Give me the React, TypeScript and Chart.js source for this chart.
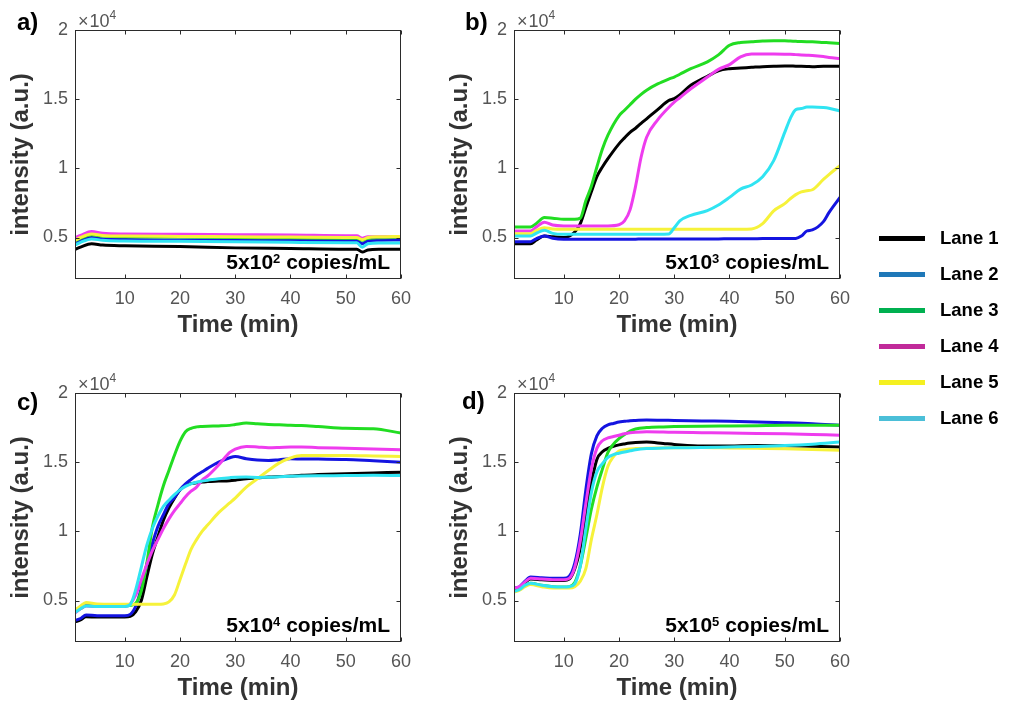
import React, { useEffect, useRef } from "react";
import { Chart, registerables } from "chart.js";

Chart.register(...registerables);

const FONT = '"Liberation Sans", Arial, Helvetica, sans-serif';

// ---------- shared ----------
const LANE_NAMES = ["Lane 1", "Lane 2", "Lane 3", "Lane 4", "Lane 5", "Lane 6"];
const LINE_COLORS = ["#000000", "#1414e0", "#22dd22", "#ee3cee", "#f6f23a", "#30e4f2"];
const LEGEND_COLORS = ["#000000", "#1f78b8", "#00b050", "#c12a9a", "#f5f020", "#4bbfd8"];
const X_TICKS = [10, 20, 30, 40, 50, 60];
const Y_TICKS = [0.5, 1, 1.5, 2]; // ×10^4
const X_MIN = 1;
const X_MAX = 60;
const Y_MIN = 0.2;
const Y_MAX = 2;

// ---------- panel a: 5x10^2 copies/mL (intensity ×10^4) ----------
const timeA = [1, 2, 4, 6, 10, 20, 30, 40, 50, 52, 53, 54, 56, 60];
const a1 = [0.414, 0.43, 0.455, 0.445, 0.44, 0.435, 0.425, 0.42, 0.415, 0.415, 0.395, 0.41, 0.415, 0.415];
const a2 = [0.46, 0.48, 0.5, 0.49, 0.485, 0.482, 0.48, 0.48, 0.478, 0.478, 0.455, 0.475, 0.48, 0.482];
const a3 = [0.475, 0.495, 0.52, 0.51, 0.505, 0.503, 0.5, 0.498, 0.495, 0.495, 0.48, 0.495, 0.498, 0.5];
const a4 = [0.5, 0.515, 0.543, 0.53, 0.525, 0.523, 0.52, 0.518, 0.513, 0.512, 0.495, 0.505, 0.505, 0.505];
const a5 = [0.48, 0.5, 0.525, 0.515, 0.51, 0.508, 0.505, 0.503, 0.5, 0.5, 0.485, 0.5, 0.505, 0.508];
const a6 = [0.445, 0.465, 0.49, 0.48, 0.475, 0.472, 0.47, 0.465, 0.462, 0.462, 0.43, 0.455, 0.46, 0.46];

// ---------- panel b: 5x10^3 copies/mL ----------
const timeB = [1, 4, 5, 6.5, 8, 10, 12, 13, 14, 15, 16, 17, 18, 20, 21, 22, 23, 24, 25, 27, 29, 30, 31, 33, 36, 38, 40, 42, 44, 46, 48, 50, 51, 52, 53, 54, 55, 57, 58, 60];
const b1 = [0.455, 0.455, 0.48, 0.51, 0.505, 0.5, 0.54, 0.6, 0.717, 0.83, 0.94, 1.01, 1.07, 1.177, 1.22, 1.26, 1.29, 1.325, 1.358, 1.425, 1.49, 1.504, 1.53, 1.6, 1.665, 1.705, 1.72, 1.725, 1.73, 1.735, 1.738, 1.74, 1.74, 1.738, 1.738, 1.737, 1.735, 1.738, 1.738, 1.738];
const b2 = [0.47, 0.47, 0.49, 0.511, 0.494, 0.487, 0.487, 0.487, 0.487, 0.487, 0.487, 0.487, 0.487, 0.488, 0.488, 0.488, 0.488, 0.489, 0.489, 0.489, 0.49, 0.49, 0.49, 0.49, 0.49, 0.49, 0.491, 0.491, 0.491, 0.492, 0.492, 0.492, 0.492, 0.493, 0.51, 0.547, 0.555, 0.615, 0.68, 0.79];
const b3 = [0.576, 0.576, 0.6, 0.644, 0.64, 0.632, 0.632, 0.64, 0.765, 0.87, 1.01, 1.14, 1.24, 1.38, 1.42, 1.46, 1.5, 1.535, 1.565, 1.61, 1.645, 1.66, 1.68, 1.72, 1.77, 1.82, 1.89, 1.91, 1.915, 1.92, 1.923, 1.922, 1.92, 1.918, 1.916, 1.915, 1.915, 1.91, 1.908, 1.903];
const b4 = [0.547, 0.547, 0.575, 0.61, 0.59, 0.584, 0.584, 0.584, 0.584, 0.584, 0.584, 0.584, 0.584, 0.592, 0.62, 0.7, 0.87, 1.08, 1.225, 1.35, 1.44, 1.479, 1.51, 1.575, 1.66, 1.715, 1.75, 1.806, 1.826, 1.826, 1.826, 1.825, 1.824, 1.822, 1.82, 1.818, 1.816, 1.808, 1.802, 1.794];
const b5 = [0.528, 0.528, 0.55, 0.571, 0.562, 0.56, 0.56, 0.56, 0.56, 0.56, 0.56, 0.56, 0.56, 0.56, 0.56, 0.56, 0.56, 0.56, 0.56, 0.56, 0.56, 0.56, 0.56, 0.56, 0.56, 0.56, 0.56, 0.56, 0.562, 0.6, 0.693, 0.745, 0.78, 0.81, 0.83, 0.838, 0.845, 0.92, 0.955, 1.02];
const b6 = [0.511, 0.511, 0.53, 0.552, 0.53, 0.523, 0.523, 0.523, 0.523, 0.523, 0.523, 0.523, 0.523, 0.523, 0.523, 0.523, 0.523, 0.523, 0.523, 0.523, 0.525, 0.57, 0.62, 0.66, 0.695, 0.735, 0.79, 0.85, 0.88, 0.94, 1.056, 1.26, 1.36, 1.425, 1.432, 1.443, 1.443, 1.44, 1.435, 1.414];

// ---------- panel c: 5x10^4 copies/mL ----------
const timeC = [1, 2, 3, 5, 8, 10, 11, 12, 13, 14, 15, 16, 17, 18, 19, 20, 21, 22, 23, 24, 25, 27, 29, 30, 32, 34, 36, 38, 40, 42, 45, 50, 55, 60];
const c1 = [0.345, 0.36, 0.382, 0.38, 0.38, 0.38, 0.385, 0.42, 0.5, 0.67, 0.836, 0.96, 1.08, 1.17, 1.24, 1.3, 1.335, 1.345, 1.352, 1.356, 1.36, 1.363, 1.366, 1.37, 1.38, 1.385, 1.392, 1.396, 1.4, 1.405, 1.41, 1.417, 1.422, 1.427];
const c2 = [0.355, 0.37, 0.396, 0.39, 0.39, 0.39, 0.4, 0.46, 0.59, 0.76, 0.91, 1.035, 1.12, 1.2, 1.245, 1.3, 1.343, 1.375, 1.405, 1.43, 1.455, 1.5, 1.532, 1.541, 1.525, 1.515, 1.512, 1.518, 1.524, 1.523, 1.522, 1.52, 1.51, 1.5];
const c3 = [0.42, 0.44, 0.465, 0.46, 0.46, 0.46, 0.465, 0.48, 0.57, 0.77, 1.03, 1.19, 1.33, 1.44, 1.55, 1.65, 1.72, 1.745, 1.755, 1.758, 1.76, 1.762, 1.766, 1.772, 1.783, 1.778, 1.773, 1.77, 1.766, 1.765, 1.758, 1.745, 1.742, 1.71];
const c4 = [0.41, 0.44, 0.46, 0.456, 0.456, 0.456, 0.475, 0.54, 0.65, 0.76, 0.86, 0.94, 1.02, 1.09, 1.15, 1.2, 1.25, 1.29, 1.32, 1.37, 1.4, 1.48, 1.57, 1.595, 1.614, 1.61, 1.604, 1.606, 1.609, 1.61, 1.605, 1.6, 1.595, 1.589];
const c5 = [0.43, 0.46, 0.485, 0.475, 0.473, 0.473, 0.473, 0.473, 0.473, 0.473, 0.473, 0.473, 0.475, 0.49, 0.54, 0.65, 0.763, 0.87, 0.94, 1.0, 1.045, 1.135, 1.205, 1.24, 1.32, 1.38, 1.44, 1.495, 1.53, 1.548, 1.548, 1.548, 1.545, 1.541];
const c6 = [0.413, 0.44, 0.46, 0.456, 0.456, 0.456, 0.47, 0.58, 0.74, 0.9, 1.02, 1.11, 1.18, 1.225, 1.265, 1.3, 1.325, 1.343, 1.355, 1.363, 1.37, 1.38, 1.388, 1.391, 1.392, 1.39, 1.391, 1.395, 1.398, 1.4, 1.402, 1.403, 1.405, 1.403];

// ---------- panel d: 5x10^5 copies/mL ----------
const timeD = [1, 2, 3, 4, 6, 8, 10, 11, 12, 13, 14, 15, 16, 17, 18, 19, 20, 21, 22, 23, 25, 28, 30, 35, 40, 45, 50, 55, 60];
const d1 = [0.585, 0.595, 0.63, 0.655, 0.65, 0.645, 0.645, 0.655, 0.73, 0.88, 1.12, 1.35, 1.52, 1.575, 1.6, 1.615, 1.625, 1.632, 1.638, 1.642, 1.645, 1.635, 1.628, 1.616, 1.617, 1.62, 1.618, 1.615, 1.61];
const d2 = [0.59, 0.6, 0.64, 0.67, 0.665, 0.66, 0.66, 0.675, 0.77, 0.98, 1.3, 1.56, 1.69, 1.745, 1.77, 1.78, 1.79, 1.795, 1.8, 1.802, 1.805, 1.803, 1.802, 1.798, 1.795, 1.79, 1.785, 1.778, 1.766];
const d3 = [0.565, 0.58, 0.61, 0.625, 0.61, 0.6, 0.598, 0.6, 0.63, 0.75, 0.95, 1.16, 1.32, 1.45, 1.57, 1.63, 1.67, 1.7, 1.725, 1.74, 1.75, 1.755, 1.757, 1.76, 1.762, 1.764, 1.766, 1.766, 1.766];
const d4 = [0.59, 0.6, 0.635, 0.66, 0.655, 0.65, 0.65, 0.66, 0.74, 0.93, 1.2, 1.45, 1.6, 1.655, 1.675, 1.685, 1.695, 1.705, 1.712, 1.716, 1.72, 1.718, 1.716, 1.713, 1.71, 1.708, 1.705, 1.7, 1.695];
const d5 = [0.56, 0.575, 0.6, 0.615, 0.6, 0.59, 0.59, 0.59, 0.6, 0.64, 0.73, 0.94, 1.12, 1.32, 1.47, 1.54, 1.58, 1.59, 1.596, 1.598, 1.6, 1.603, 1.605, 1.606, 1.603, 1.6, 1.597, 1.592, 1.586];
const d6 = [0.565, 0.58, 0.61, 0.625, 0.61, 0.6, 0.598, 0.6, 0.62, 0.75, 1.02, 1.28, 1.43, 1.49, 1.535, 1.555, 1.565, 1.574, 1.582, 1.59, 1.598, 1.602, 1.604, 1.606, 1.61, 1.614, 1.62, 1.63, 1.645];

// ---------- layout constants ----------
const CANVAS_W = 420;
const CANVAS_H = 345;
const PAD_TOP = 30;
const PAD_RIGHT = 19;
const Y_AXIS_W = 75;
const X_AXIS_H = 66;

const framePlugin = {
  id: "matlabFrame",
  afterDraw(chart: any) {
    const { ctx, chartArea } = chart;
    const { left, right, top, bottom } = chartArea;
    const xs = chart.scales.x;
    const ys = chart.scales.y;
    const L = Math.round(left) + 0.5;
    const R = Math.round(right) - 0.5;
    const T = Math.round(top) + 0.5;
    const B = Math.round(bottom) - 0.5;
    ctx.save();
    ctx.strokeStyle = "#2b2b2b";
    ctx.lineWidth = 1;
    ctx.strokeRect(L, T, R - L, B - T);
    const tl = 4;
    ctx.beginPath();
    X_TICKS.forEach((v) => {
      const px = Math.round(xs.getPixelForValue(v)) + 0.5;
      ctx.moveTo(px, B);
      ctx.lineTo(px, B - tl);
      ctx.moveTo(px, T);
      ctx.lineTo(px, T + tl);
    });
    Y_TICKS.forEach((v) => {
      const py = Math.round(ys.getPixelForValue(v)) + 0.5;
      ctx.moveTo(L, py);
      ctx.lineTo(L + tl, py);
      ctx.moveTo(R, py);
      ctx.lineTo(R - tl, py);
    });
    ctx.stroke();
    ctx.restore();
  },
};

function TextAt(props: {
  x: number;
  baseline: number;
  size: number;
  weight?: string;
  color?: string;
  align?: "left" | "right";
  children: React.ReactNode;
}) {
  const { x, baseline, size, weight = "normal", color = "#000", align = "left", children } = props;
  const top = baseline - 0.8465 * size;
  return (
    <div
      style={{
        position: "absolute",
        left: x,
        top,
        fontFamily: FONT,
        fontSize: size,
        fontWeight: weight as any,
        color,
        lineHeight: 1,
        whiteSpace: "nowrap",
        transform: align === "right" ? "translateX(-100%)" : undefined,
      }}
    >
      {children}
    </div>
  );
}

type PanelProps = {
  left: number;
  top: number;
  times: number[];
  series: number[][];
  letter: string;
  letterX: number;
  letterBaseline: number;
  exponent: string;
};

function Panel({ left, top, times, series, letter, letterX, letterBaseline, exponent }: PanelProps) {
  const ref = useRef<HTMLCanvasElement>(null);

  useEffect(() => {
    if (!ref.current) return;
    const chart = new Chart(ref.current, {
      type: "line",
      data: {
        datasets: series.map((vals, i) => ({
          label: LANE_NAMES[i],
          data: vals.map((v, j) => ({ x: times[j], y: v })),
          borderColor: LINE_COLORS[i],
          backgroundColor: LINE_COLORS[i],
          borderWidth: 3,
          pointRadius: 0,
          fill: false,
          cubicInterpolationMode: "monotone",
          borderJoinStyle: "round",
          borderCapStyle: "round",
          order: 6 - i,
          clip: 0,
        })),
      },
      options: {
        responsive: false,
        animation: false,
        devicePixelRatio: 1,
        events: [],
        layout: { padding: { left: 0, top: PAD_TOP, right: PAD_RIGHT, bottom: 0 } },
        plugins: { legend: { display: false }, tooltip: { enabled: false } },
        scales: {
          x: {
            type: "linear",
            min: X_MIN,
            max: X_MAX,
            afterBuildTicks: (s: any) => {
              s.ticks = X_TICKS.map((v) => ({ value: v }));
            },
            afterFit: (s: any) => {
              s.height = X_AXIS_H;
            },
            grid: { display: false, drawTicks: false },
            border: { display: false },
            ticks: {
              padding: 9,
              color: "#555555",
              font: { family: FONT, size: 18 },
              maxRotation: 0,
              autoSkip: false,
              callback: (v: any) => String(v),
            },
            title: {
              display: true,
              text: "Time (min)",
              color: "#333333",
              font: { family: FONT, size: 24, weight: "bold" },
              padding: { top: 0, bottom: 5.5 },
            },
          },
          y: {
            type: "linear",
            min: Y_MIN,
            max: Y_MAX,
            afterBuildTicks: (s: any) => {
              s.ticks = Y_TICKS.map((v) => ({ value: v }));
            },
            afterFit: (s: any) => {
              s.width = Y_AXIS_W;
            },
            grid: { display: false, drawTicks: false },
            border: { display: false },
            ticks: {
              padding: 7,
              color: "#555555",
              font: { family: FONT, size: 18 },
              autoSkip: false,
              callback: (v: any) => String(v),
            },
            title: {
              display: true,
              text: "intensity (a.u.)",
              color: "#333333",
              font: { family: FONT, size: 24, weight: "bold" },
              padding: { top: 7, bottom: 0 },
            },
          },
        },
      } as any,
      plugins: [framePlugin],
    });
    return () => chart.destroy();
  }, [times, series]);

  const plotLeft = left + Y_AXIS_W;
  const plotTop = top + PAD_TOP;
  const plotRight = left + CANVAS_W - PAD_RIGHT;
  const plotBottom = top + CANVAS_H - X_AXIS_H;

  return (
    <>
      <canvas
        ref={ref}
        width={CANVAS_W}
        height={CANVAS_H}
        style={{ position: "absolute", left, top, width: CANVAS_W, height: CANVAS_H }}
      />
      <TextAt x={letterX} baseline={letterBaseline} size={24} weight="bold">
        {letter}
      </TextAt>
      <TextAt x={plotLeft + 3} baseline={plotTop - 3} size={18} color="#555555">
        ×<span style={{ marginLeft: 1 }}>10</span>
        <span style={{ position: "relative", top: -8, fontSize: 12 }}>4</span>
      </TextAt>
      <TextAt x={plotRight - 11} baseline={plotBottom - 10.5} size={21} weight="bold" align="right">
        5x10<span style={{ position: "relative", top: -6, fontSize: 13 }}>{exponent}</span> copies/mL
      </TextAt>
    </>
  );
}

function Legend() {
  return (
    <>
      {LANE_NAMES.map((name, i) => {
        const cy = 238 + i * 36;
        return (
          <React.Fragment key={name}>
            <div
              style={{
                position: "absolute",
                left: 879,
                top: cy - 2.5,
                width: 46,
                height: 5,
                background: LEGEND_COLORS[i],
              }}
            />
            <TextAt x={940} baseline={cy + 6.6} size={18.5} weight="bold">
              {name}
            </TextAt>
          </React.Fragment>
        );
      })}
    </>
  );
}

const SERIES_A = [a1, a2, a3, a4, a5, a6];
const SERIES_B = [b1, b2, b3, b4, b5, b6];
const SERIES_C = [c1, c2, c3, c4, c5, c6];
const SERIES_D = [d1, d2, d3, d4, d5, d6];

export default function App() {
  return (
    <div
      style={{
        position: "absolute",
        left: 0,
        top: 0,
        width: 1013,
        height: 713,
        background: "#ffffff",
        overflow: "hidden",
      }}
    >
      <Panel left={0} top={0} times={timeA} series={SERIES_A} letter="a)" letterX={17} letterBaseline={30} exponent="2" />
      <Panel left={439} top={0} times={timeB} series={SERIES_B} letter="b)" letterX={465} letterBaseline={30} exponent="3" />
      <Panel left={0} top={363} times={timeC} series={SERIES_C} letter="c)" letterX={17} letterBaseline={410} exponent="4" />
      <Panel left={439} top={363} times={timeD} series={SERIES_D} letter="d)" letterX={462} letterBaseline={409} exponent="5" />
      <Legend />
    </div>
  );
}
